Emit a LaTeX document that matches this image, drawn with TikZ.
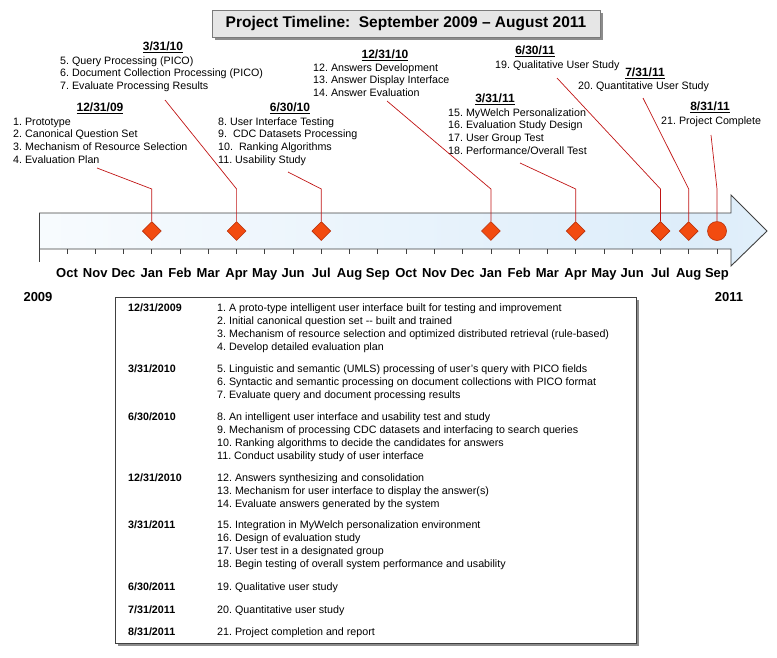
\documentclass[tikz,border=0pt]{standalone}
\usepackage{fontspec}
\setmainfont{Liberation Sans}
\usetikzlibrary{shapes.geometric}
\frenchspacing

\definecolor{leader}{HTML}{C01414}
\definecolor{msfill}{HTML}{F24B10}
\definecolor{msborder}{HTML}{B8300A}
\definecolor{axisgray}{HTML}{404040}
\definecolor{titlefill}{HTML}{E6E6E6}
\definecolor{titleedge}{HTML}{7A7A7A}
\definecolor{shadowgray}{HTML}{8C8C8C}
\definecolor{barblue}{HTML}{DDEDFA}

\pgfdeclarehorizontalshading{barshade}{100bp}{%
  color(0bp)=(white); color(12bp)=(white); color(70bp)=(barblue); color(88bp)=(barblue!55); color(100bp)=(white)}

\tikzset{
  itemtext/.style={anchor=base west, inner sep=0pt, font=\fontsize{10.7}{12}\selectfont},
  datehead/.style={anchor=base, inner sep=0pt, font=\bfseries\fontsize{12}{14}\selectfont},
  rowdate/.style={anchor=base west, inner sep=0pt, font=\bfseries\fontsize{10.7}{12}\selectfont},
  monthlabel/.style={anchor=base, inner sep=0pt, font=\bfseries\fontsize{13}{15}\selectfont},
  milestone/.style={diamond, draw=msborder, fill=msfill, line width=0.6pt, minimum size=19pt, inner sep=0pt},
  finalstone/.style={circle, draw=msborder, fill=msfill, line width=0.6pt, minimum size=19pt, inner sep=0pt},
  leaderline/.style={draw=leader, line width=0.7pt},
  tickline/.style={draw=axisgray, line width=0.8pt}
}

\begin{document}
\begin{tikzpicture}[x=1pt,y=-1pt]
\useasboundingbox (0,0) rectangle (777,657);

% ---------- title ----------
\fill[shadowgray] (214.5,12.5) rectangle (602.5,39.5);
\node[draw=titleedge, fill=titlefill, line width=0.8pt, minimum width=388pt, minimum height=27pt,
      inner sep=0pt, font=\bfseries\fontsize{15.5}{18}\selectfont] (title) at (406,23.5)
  {Project Timeline:\ \ September 2009 – August 2011};

% ---------- timeline arrow ----------
\shade[shading=barshade] (39,213) -- (731,213) -- (731,195) -- (767,231) -- (731,266)
  -- (731,249) -- (39,249) -- cycle;
\draw[draw=axisgray, line width=0.9pt, line join=miter] (39,213) -- (731,213) -- (731,195)
  -- (767,231) -- (731,266) -- (731,249) -- (39,249);
\draw[tickline] (39,213) -- (39,262);

% month ticks and labels
\foreach \m [count=\i from 0] in {Oct,Nov,Dec,Jan,Feb,Mar,Apr,May,Jun,Jul,Aug,Sep,
                                   Oct,Nov,Dec,Jan,Feb,Mar,Apr,May,Jun,Jul,Aug,Sep}{
  \draw[tickline] ({67+28.26*\i},249) -- ({67+28.26*\i},253.5);
  \node[monthlabel] (mon-\i) at ({67+28.26*\i},277.7) {\m};
}
\node[monthlabel] (y2009) at (38,301.7) {2009};
\node[monthlabel] (y2011) at (729,301.7) {2011};

% ---------- milestones ----------
\node[milestone] (m1) at (151.8,231) {};
\node[milestone] (m2) at (236.6,231) {};
\node[milestone] (m3) at (321.3,231) {};
\node[milestone] (m4) at (490.9,231) {};
\node[milestone] (m5) at (575.7,231) {};
\node[milestone] (m6) at (660.5,231) {};
\node[milestone] (m7) at (688.7,231) {};
\node[finalstone] (m8) at (717,231) {};

% ---------- milestone captions ----------
\node[datehead] (d1) at (100,111.3) {\underline{12/31/09}};
\foreach \t [count=\i] in {{1. Prototype},{2. Canonical Question Set},
    {3. Mechanism of Resource Selection},{4. Evaluation Plan}}
  \node[itemtext] (c1-\i) at ({13},{125+(\i-1)*12.8}) {\t};

\node[datehead] (d2) at (163,50.3) {\underline{3/31/10}};
\foreach \t [count=\i] in {{5. Query Processing (PICO)},{6. Document Collection Processing (PICO)},
    {7. Evaluate Processing Results}}
  \node[itemtext] (c2-\i) at ({60},{64+(\i-1)*12.8}) {\t};

\node[datehead] (d3) at (290,111.3) {\underline{6/30/10}};
\foreach \t [count=\i] in {{8. User Interface Testing},{9.\ \ CDC Datasets Processing},
    {10.\ \ Ranking Algorithms},{11. Usability Study}}
  \node[itemtext] (c3-\i) at ({218},{125+(\i-1)*12.8}) {\t};

\node[datehead] (d4) at (385,58.3) {\underline{12/31/10}};
\foreach \t [count=\i] in {{12. Answers Development},{13. Answer Display Interface},
    {14. Answer Evaluation}}
  \node[itemtext] (c4-\i) at ({313},{71+(\i-1)*12.8}) {\t};

\node[datehead] (d5) at (495,102.3) {\underline{3/31/11}};
\foreach \t [count=\i] in {{15. MyWelch Personalization},{16. Evaluation Study Design},
    {17. User Group Test},{18. Performance/Overall Test}}
  \node[itemtext] (c5-\i) at ({448},{116+(\i-1)*12.8}) {\t};

\node[datehead] (d6) at (535,54.3) {\underline{6/30/11}};
\node[itemtext] (c6-1) at (495,68) {19. Qualitative User Study};

\node[datehead] (d7) at (645,76.3) {\underline{7/31/11}};
\node[itemtext] (c7-1) at (578,89) {20. Quantitative User Study};

\node[datehead] (d8) at (710,110.3) {\underline{8/31/11}};
\node[itemtext] (c8-1) at (661,124) {21. Project Complete};

% ---------- leader lines ----------
\coordinate (l1) at (97,168);   \coordinate (k1) at (151.8,189);
\coordinate (l2) at (165,100);  \coordinate (k2) at (236.6,189);
\coordinate (l3) at (288,172);  \coordinate (k3) at (321.3,189);
\coordinate (l4) at (387,101);  \coordinate (k4) at (490.9,189);
\coordinate (l5) at (520,163);  \coordinate (k5) at (575.7,189);
\coordinate (l6) at (557,78);   \coordinate (k6) at (660.5,189);
\coordinate (l7) at (643,98);   \coordinate (k7) at (688.7,189);
\coordinate (l8) at (711,135);  \coordinate (k8) at (717,189);
\foreach \j in {1,...,8}
  \draw[leaderline] (l\j) -- (k\j) -- (m\j.north);

% ---------- summary table ----------
\fill[shadowgray] (117.5,299.5) rectangle (638.5,645.5);
\draw[draw=axisgray, fill=white, line width=0.8pt] (115,297) rectangle (636,643);

\node[rowdate] (r1) at (128,311.8) {12/31/2009};
\foreach \t [count=\i] in {{1. A proto-type intelligent user interface built for testing and improvement},
    {2. Initial canonical question set -{}- built and trained},
    {3. Mechanism of resource selection and optimized distributed retrieval (rule-based)},
    {4. Develop detailed evaluation plan}}
  \node[itemtext] (t1-\i) at ({217},{311.8+(\i-1)*13}) {\t};

\node[rowdate] (r2) at (128,372.8) {3/31/2010};
\foreach \t [count=\i] in {{5. Linguistic and semantic (UMLS) processing of user's query with PICO fields},
    {6. Syntactic and semantic processing on document collections with PICO format},
    {7. Evaluate query and document processing results}}
  \node[itemtext] (t2-\i) at ({217},{372.8+(\i-1)*13}) {\t};

\node[rowdate] (r3) at (128,420.8) {6/30/2010};
\foreach \t [count=\i] in {{8. An intelligent user interface and usability test and study},
    {9. Mechanism of processing CDC datasets and interfacing to search queries},
    {10. Ranking algorithms to decide the candidates for answers},
    {11. Conduct usability study of user interface}}
  \node[itemtext] (t3-\i) at ({217},{420.8+(\i-1)*13}) {\t};

\node[rowdate] (r4) at (128,481.8) {12/31/2010};
\foreach \t [count=\i] in {{12. Answers synthesizing and consolidation},
    {13. Mechanism for user interface to display the answer(s)},
    {14. Evaluate answers generated by the system}}
  \node[itemtext] (t4-\i) at ({217},{481.8+(\i-1)*13}) {\t};

\node[rowdate] (r5) at (128,528.8) {3/31/2011};
\foreach \t [count=\i] in {{15. Integration in MyWelch personalization environment},
    {16. Design of evaluation study},
    {17. User test in a designated group},
    {18. Begin testing of overall system performance and usability}}
  \node[itemtext] (t5-\i) at ({217},{528.8+(\i-1)*13}) {\t};

\node[rowdate] (r6) at (128,590.8) {6/30/2011};
\node[itemtext] (t6-1) at (217,590.8) {19. Qualitative user study};

\node[rowdate] (r7) at (128,613.8) {7/31/2011};
\node[itemtext] (t7-1) at (217,613.8) {20. Quantitative user study};

\node[rowdate] (r8) at (128,635.8) {8/31/2011};
\node[itemtext] (t8-1) at (217,635.8) {21. Project completion and report};

\end{tikzpicture}
\end{document}
